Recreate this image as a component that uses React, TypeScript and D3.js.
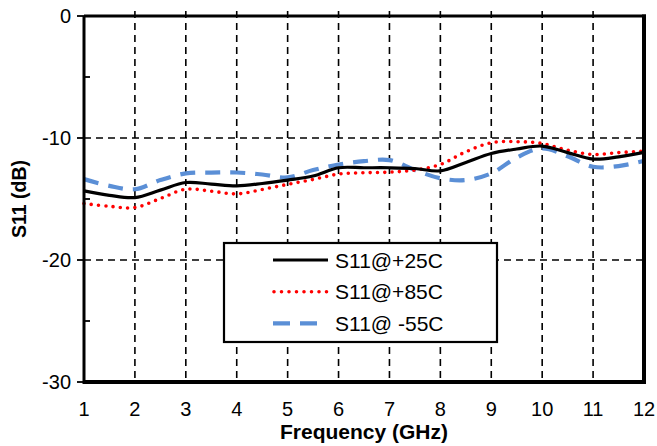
import React, { useEffect, useRef } from 'react';
import * as d3 from 'd3';

// frequency points (GHz)
const freqs = [1, 1.5, 2, 2.5, 3, 3.5, 4, 4.5, 5, 5.5, 6, 6.5, 7, 7.5, 8, 8.5, 9, 9.5, 10, 10.5, 11, 11.5, 12];

// S11 in dB
const s11At25 = [-14.33, -14.7, -14.88, -14.27, -13.65, -13.78, -13.92, -13.73, -13.45, -13.12, -12.44, -12.44, -12.44, -12.5, -12.69, -12.0, -11.27, -10.9, -10.66, -11.2, -11.73, -11.55, -11.18];
const s11At85 = [-15.37, -15.6, -15.7, -14.96, -14.2, -14.36, -14.58, -14.22, -13.8, -13.4, -12.96, -12.85, -12.8, -12.63, -12.17, -11.13, -10.39, -10.3, -10.45, -11.0, -11.35, -11.2, -11.07];
const s11AtM55 = [-13.37, -13.92, -14.2, -13.45, -12.9, -12.83, -12.83, -12.99, -13.23, -12.63, -12.17, -11.9, -11.81, -12.63, -13.3, -13.45, -12.9, -11.6, -10.85, -11.5, -12.36, -12.3, -11.87];

const seriesNames = ['S11@+25C', 'S11@+85C', 'S11@ -55C'];
const xTicks = [1, 2, 3, 4, 5, 6, 7, 8, 9, 10, 11, 12];
const yTicks = [0, -10, -20, -30];
const yMinor = [-5, -15, -25];

const W = 657;
const H = 446;

export default function App() {
  const ref = useRef<SVGSVGElement>(null);

  useEffect(() => {
    const svg = d3.select(ref.current);
    svg.selectAll('*').remove();

    const margin = { top: 16, left: 84, right: 13, bottom: 64 };
    const gw = W - margin.left - margin.right;
    const gh = H - margin.top - margin.bottom;

    const x = d3.scaleLinear().domain([1, 12]).range([margin.left, margin.left + gw]);
    const y = d3.scaleLinear().domain([-30, 0]).range([margin.top + gh, margin.top]);

    const font = 'Arial, "Liberation Sans", sans-serif';

    // grid
    svg.append('g').selectAll('line').data(xTicks.slice(1, -1)).join('line')
      .attr('x1', d => x(d)).attr('x2', d => x(d))
      .attr('y1', y(0) - 5).attr('y2', y(-30))
      .attr('stroke', '#000').attr('stroke-width', 1.6).attr('stroke-dasharray', '7,5');
    svg.append('g').selectAll('line').data([-10, -20]).join('line')
      .attr('x1', x(1)).attr('x2', x(12))
      .attr('y1', d => y(d)).attr('y2', d => y(d))
      .attr('stroke', '#000').attr('stroke-width', 1.6).attr('stroke-dasharray', '7,5');

    // curves
    const line = d3.line<number>()
      .x((_, i) => x(freqs[i]))
      .y(d => y(d))
      .curve(d3.curveCatmullRom.alpha(0.5));

    const styles = [
      { color: '#000000', width: 3.2, dash: null as string | null, cap: 'butt' },
      { color: '#ff0000', width: 3.6, dash: '0,7.3', cap: 'round' },
      { color: '#5b8fd6', width: 4.2, dash: '15,10', cap: 'butt' },
    ];
    const allSeries = [s11At25, s11At85, s11AtM55];

    [2, 1, 0].forEach(i => {
      svg.append('path').datum(allSeries[i])
        .attr('d', line)
        .attr('fill', 'none')
        .attr('stroke', styles[i].color)
        .attr('stroke-width', styles[i].width)
        .attr('stroke-linecap', styles[i].cap)
        .attr('stroke-dasharray', styles[i].dash);
    });

    // frame
    const frame = svg.append('g').attr('stroke', '#000').attr('fill', 'none');
    frame.append('line').attr('x1', x(1)).attr('x2', x(12) + 2).attr('y1', y(0)).attr('y2', y(0)).attr('stroke-width', 3);
    frame.append('line').attr('x1', x(1)).attr('x2', x(12) + 2).attr('y1', y(-30)).attr('y2', y(-30)).attr('stroke-width', 4);
    frame.append('line').attr('x1', x(1)).attr('x2', x(1)).attr('y1', y(0)).attr('y2', y(-30) + 2).attr('stroke-width', 3);
    frame.append('line').attr('x1', x(12)).attr('x2', x(12)).attr('y1', y(0) - 1.5).attr('y2', y(-30) + 2).attr('stroke-width', 4);

    // y ticks
    frame.append('g').selectAll('line').data(yTicks).join('line')
      .attr('x1', x(1) - 7).attr('x2', x(1)).attr('y1', d => y(d)).attr('y2', d => y(d)).attr('stroke-width', 1.8);
    frame.append('g').selectAll('line').data(yMinor).join('line')
      .attr('x1', x(1)).attr('x2', x(1) + 6).attr('y1', d => y(d)).attr('y2', d => y(d)).attr('stroke-width', 1.8);

    svg.append('g').selectAll('text').data(yTicks).join('text')
      .attr('x', x(1) - 13).attr('y', d => y(d) + 7)
      .attr('text-anchor', 'end').attr('font-family', font).attr('font-size', 20)
      .text(d => d3.format('d')(d).replace('−', '-'));

    svg.append('g').selectAll('text').data(xTicks).join('text')
      .attr('x', d => x(d)).attr('y', 416)
      .attr('text-anchor', 'middle').attr('font-family', font).attr('font-size', 20)
      .text(d => d);

    svg.append('text').attr('x', x(6.5)).attr('y', 439)
      .attr('text-anchor', 'middle').attr('font-family', font).attr('font-size', 21).attr('font-weight', 'bold')
      .text('Frequency (GHz)');
    svg.append('text').attr('transform', `translate(26, ${y(-15)}) rotate(-90)`)
      .attr('text-anchor', 'middle').attr('font-family', font).attr('font-size', 19.5).attr('font-weight', 'bold')
      .text('S11 (dB)');

    // legend
    const lg = svg.append('g');
    lg.append('rect').attr('x', 224).attr('y', 243).attr('width', 273).attr('height', 99)
      .attr('fill', '#fff').attr('stroke', '#000').attr('stroke-width', 2.2);
    seriesNames.forEach((name, i) => {
      const yy = 260 + i * 31.7;
      lg.append('line').attr('x1', i === 1 ? 274 : 273).attr('x2', i === 2 ? 318 : 328).attr('y1', yy).attr('y2', yy)
        .attr('stroke', styles[i].color).attr('stroke-width', styles[i].width)
        .attr('stroke-linecap', styles[i].cap).attr('stroke-dasharray', i === 1 ? '0,7.5' : i === 2 ? '17,10' : null);
      lg.append('text').attr('x', 335).attr('y', yy + 7.5).attr('font-family', font).attr('font-size', 21).text(name);
    });
  }, []);

  return (
    <svg ref={ref} width={W} height={H} style={{ position: 'absolute', left: 0, top: 0, background: '#fff' }} />
  );
}
